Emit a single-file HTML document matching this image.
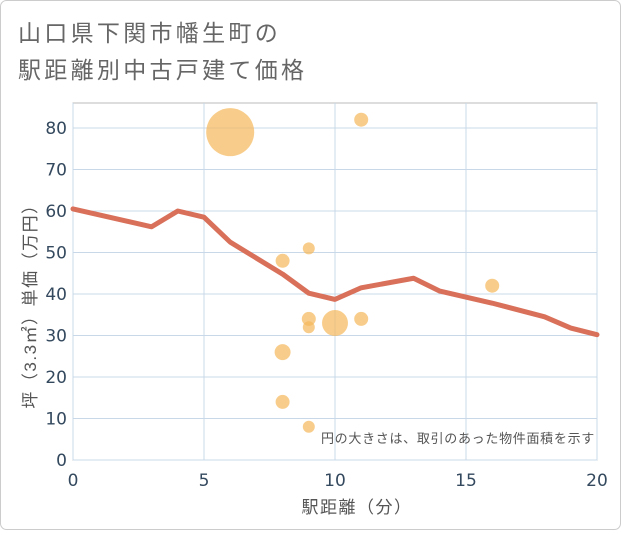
<!DOCTYPE html>
<html><head><meta charset="utf-8"><style>
body{margin:0;background:#fff;}
svg text{font-family:"Liberation Sans","Noto Sans CJK JP",sans-serif;}
svg text.num{font-family:"DejaVu Sans",sans-serif;}
</style></head><body>
<svg width="621" height="530" xmlns="http://www.w3.org/2000/svg">
<rect x="0.5" y="0.5" width="620" height="529" rx="6" fill="#fff" stroke="#ccc"/>
<text x="18" y="41" font-size="23" letter-spacing="3.3" fill="#666">山口県下関市幡生町の</text>
<text x="18" y="78" font-size="23" letter-spacing="3.3" fill="#666">駅距離別中古戸建て価格</text>
<rect x="73" y="103" width="524" height="357" fill="#fff" stroke="#bbb"/>
<g id="grid"></g>
<g id="bubbles"></g>
<g id="line"></g>
<g id="axes"></g>
<text x="595" y="443" font-size="13" letter-spacing="0.7" fill="#555" text-anchor="end">円の大きさは、取引のあった物件面積を示す</text>
<text x="357" y="513" font-size="17" letter-spacing="1.5" fill="#555" text-anchor="middle">駅距離（分）</text>
<text transform="translate(36,302) rotate(-90)" font-size="17" letter-spacing="1.5" fill="#555" text-anchor="middle">坪（3.3㎡）単価（万円）</text>
</svg>
<script>
const xTicks=[0,5,10,15,20];
const yTicks=[0,10,20,30,40,50,60,70,80];
const bubbleX=[6,11,9,8,9,9,10,11,8,8,9,16];
const bubbleY=[79,82,51,48,34,32,33,34,26,14,8,42];
const bubbleR=[24,7,6,7,7,6,13,7,8,7,6,7];
const lineX=[0,3,4,5,6,8,9,10,11,13,14,16,18,19,20];
const lineY=[60.5,56.2,60,58.5,52.5,44.8,40.2,38.7,41.5,43.8,40.7,37.8,34.5,31.8,30.2];
const NS="http://www.w3.org/2000/svg";
const sx=v=>73+v*(524/20);
const sy=v=>460-v*(332/80);
function mk(t,a,p){const e=document.createElementNS(NS,t);for(const k in a)e.setAttribute(k,a[k]);p.appendChild(e);return e;}
const grid=document.getElementById('grid'),axes=document.getElementById('axes');
xTicks.forEach(v=>{
  const l=mk('line',{x1:sx(v),x2:sx(v),y1:103,y2:460,stroke:'#c8d8e8'},grid);
  
  
  const t=mk('text',{x:sx(v),y:486,'font-size':17,fill:'#34495e','text-anchor':'middle','class':'num'},axes);
  t.textContent=v;
  
  
});
yTicks.forEach(v=>{
  const l=mk('line',{x1:73,x2:597,y1:sy(v),y2:sy(v),stroke:'#c8d8e8'},grid);
  
  
  const t=mk('text',{x:67,y:sy(v)+6,'font-size':17,fill:'#34495e','text-anchor':'end','class':'num'},axes);
  t.textContent=v;
  
  
});
const bg=document.getElementById('bubbles');
bubbleX.forEach((x,i)=>{
  const c=mk('circle',{cx:sx(x),cy:sy(bubbleY[i]),r:bubbleR[i],fill:'#f5b85a','fill-opacity':0.7},bg);
  
  
});
const pts=lineX.map((x,i)=>sx(x)+','+sy(lineY[i])).join(' ');
const pl=mk('polyline',{points:pts,fill:'none',stroke:'#d9705a','stroke-width':5,'stroke-linejoin':'round','stroke-linecap':'round'},document.getElementById('line'));


</script>
</body></html>
